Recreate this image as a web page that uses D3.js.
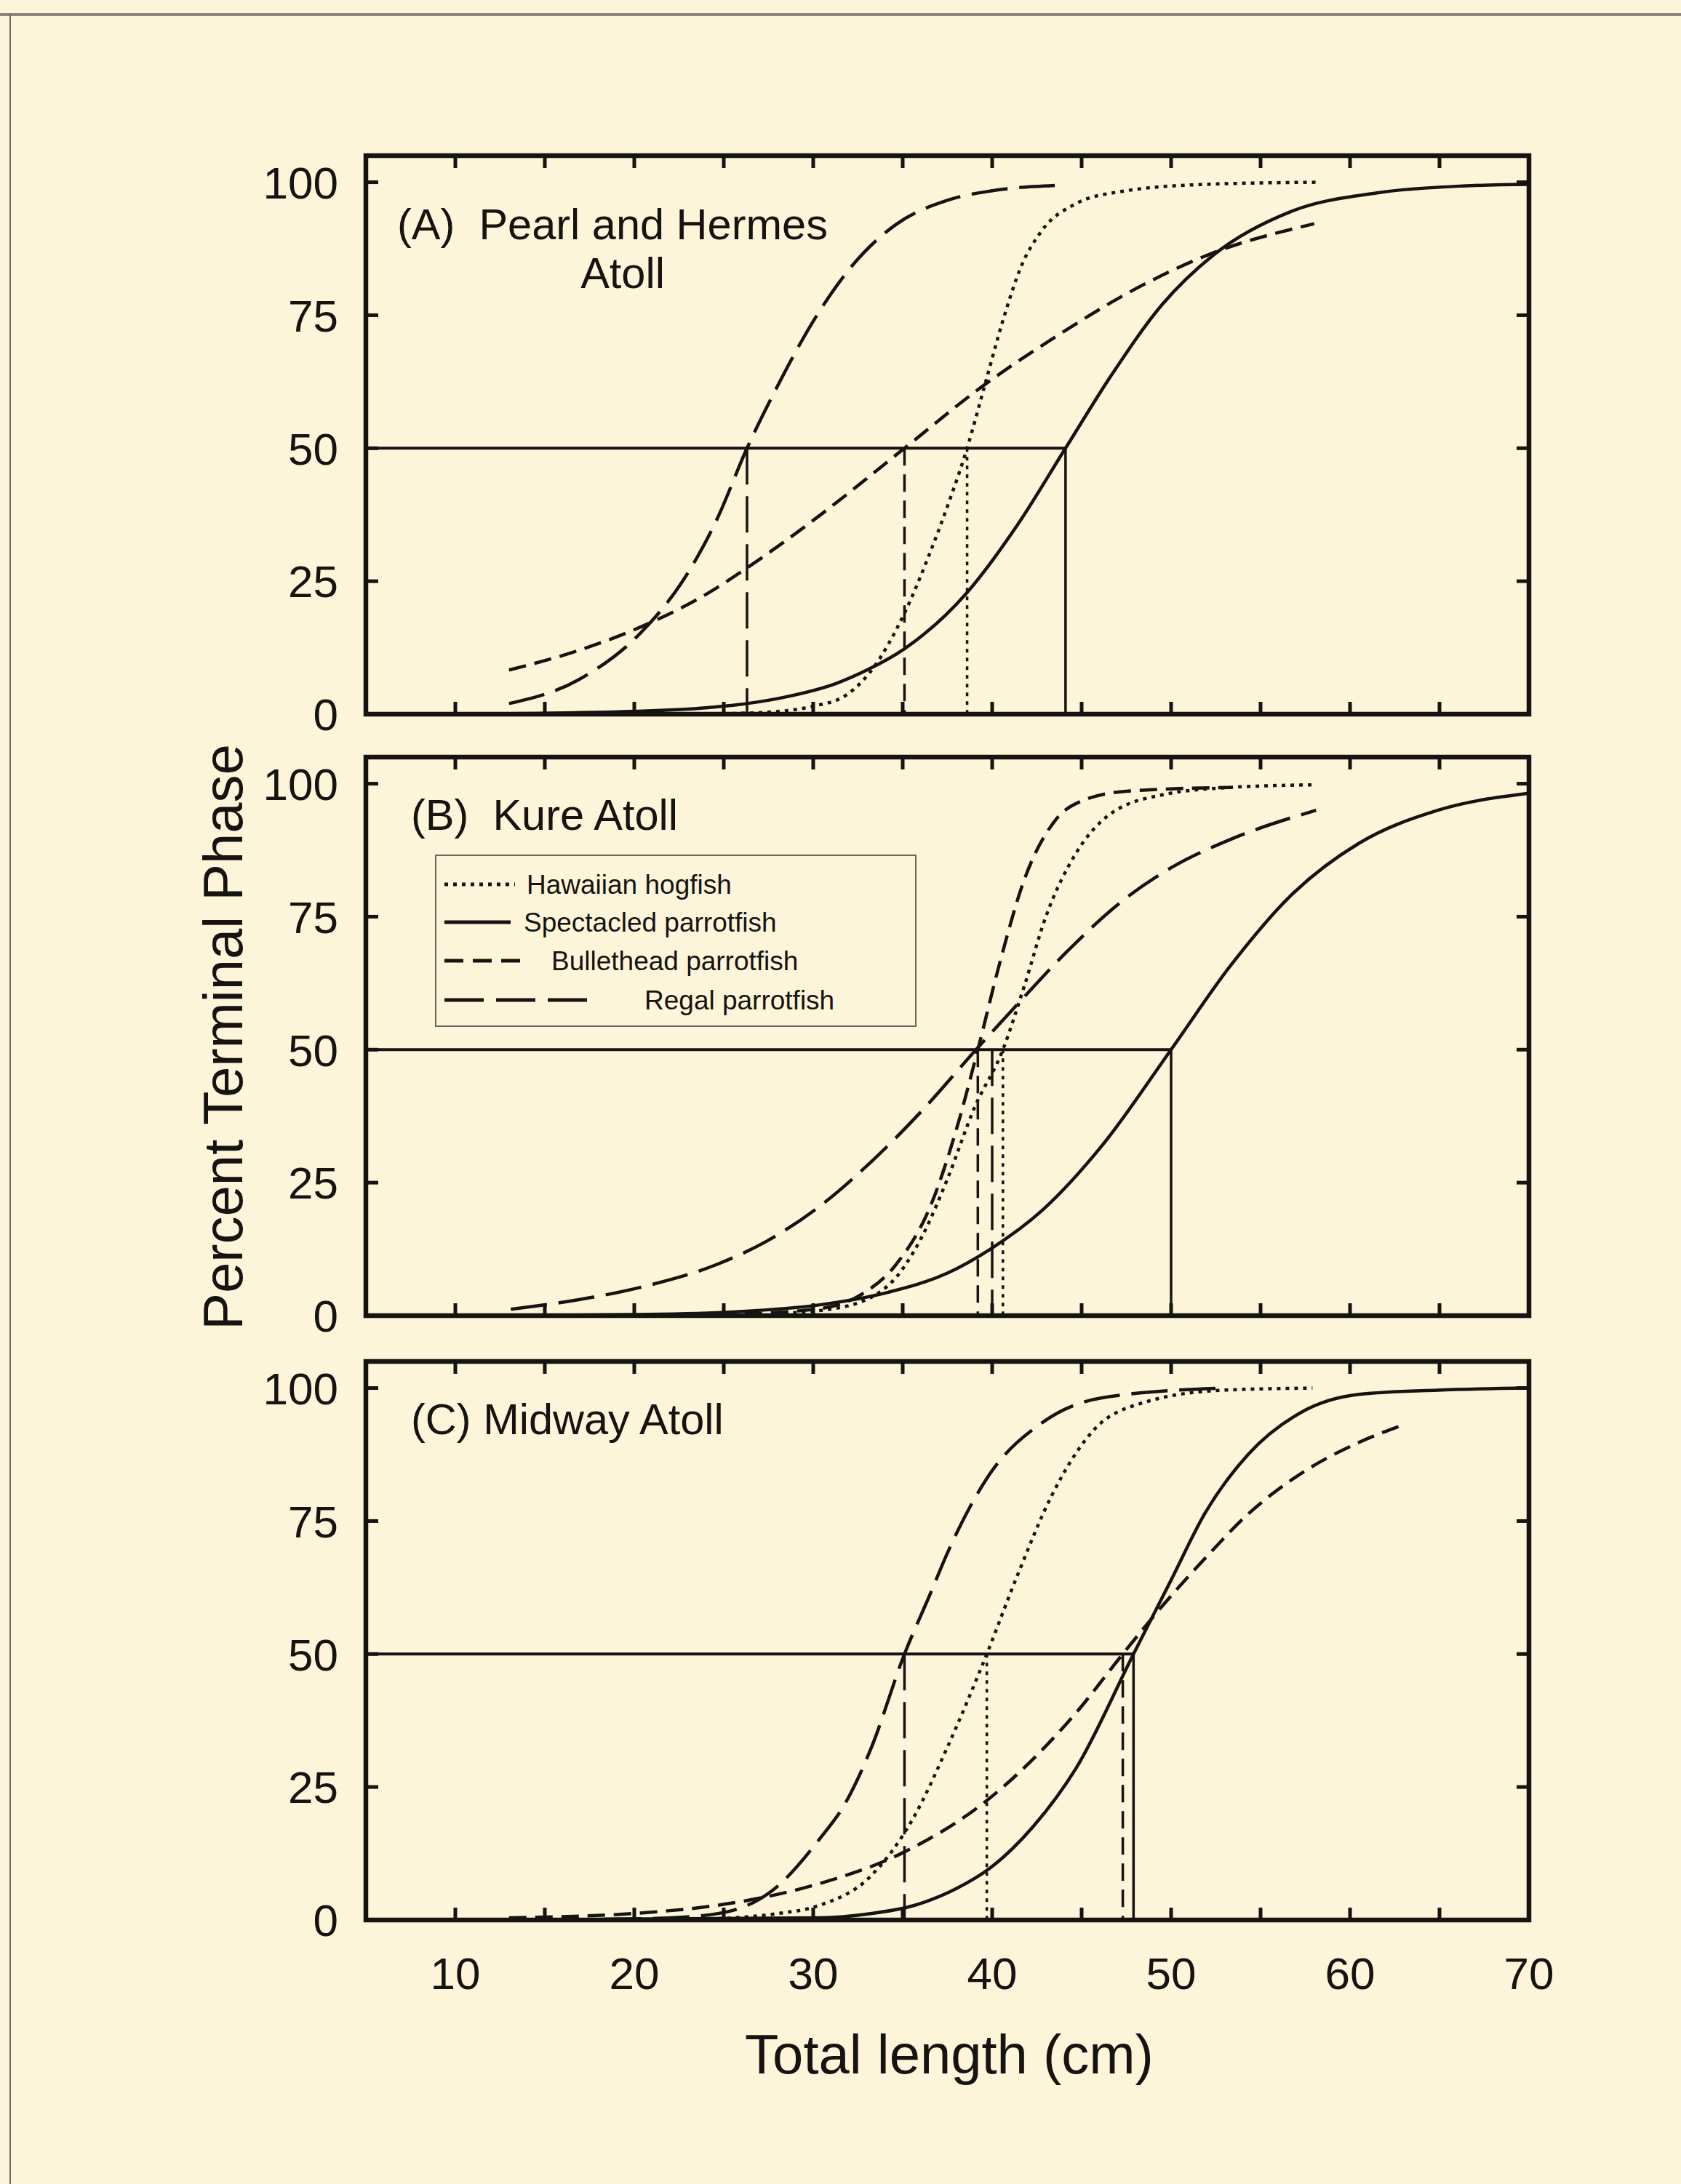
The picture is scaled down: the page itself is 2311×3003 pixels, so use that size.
<!DOCTYPE html>
<html><head><meta charset="utf-8">
<script src="https://cdn.jsdelivr.net/npm/d3@7/dist/d3.min.js"></script>
<style>
html,body{margin:0;padding:0;background:#FCF5DA;}
svg{display:block;font-family:"Liberation Sans",Arial,Helvetica,sans-serif;}
</style>
</head><body>
<svg id="chart" width="2311" height="3003"></svg>
<script>
// ---------- data ----------
const xDomain = [5, 70];
const yDomain = [0, 105];
const xTickLabels = [10, 20, 30, 40, 50, 60, 70];
const xTickMarks = [10, 15, 20, 25, 30, 35, 40, 45, 50, 55, 60, 65];
const yTickLabels = [0, 25, 50, 75, 100];
const species = ["Hawaiian hogfish", "Spectacled parrotfish", "Bullethead parrotfish", "Regal parrotfish"];
const panelTitles = ["(A)  Pearl and Hermes", "(B)  Kure Atoll", "(C) Midway Atoll"];
const panelSubtitles = ["Atoll", "", ""];

// Panel A: Pearl and Hermes Atoll
const hogfishA = [[25,0.1],[28,0.5],[30,1.5],[31.8,3.5],[33.2,8],[35.1,19],[36.6,31],[37.6,40],[38.6,50],[39.6,62],[40.6,74],[41.6,84],[42.8,91],[44.7,96],[47.1,98.2],[51.9,99.6],[58.1,100]];
const spectacledA = [[13,0.1],[20.7,0.6],[24,1.2],[26.3,2.0],[28.4,3.2],[31.3,5.8],[33,8.3],[35.1,12.3],[38.5,22.5],[41.4,35.5],[44.1,50],[46.6,63.4],[49.5,77],[52.4,86.4],[56.7,94.5],[61.5,98],[66.3,99.3],[70,99.6]];
const bullheadA = [[13,8.3],[16.9,12],[20.7,16.9],[24,22.5],[26.3,27.5],[30.3,37.2],[35.1,50],[39.4,61.5],[43.8,71.5],[47.6,79.2],[52.1,86.4],[58,92.2]];
const regalA = [[13,2],[16.9,6.5],[20.7,16.5],[22.6,24.5],[24.6,36.5],[26.3,50],[27.9,61],[30.3,75.5],[32.2,84.4],[34.6,92],[37.5,96.6],[40,98.4],[43.5,99.4]];
const l50A = [38.6, 44.1, 35.1, 26.3];

// Panel B: Kure Atoll
const hogfishB = [[27.9,0.4],[31.3,1.4],[34.2,5.7],[36.1,15],[37.5,25.7],[39,39],[40.6,50],[41.8,62],[43,75],[44.7,87],[46.6,94.3],[49.5,97.9],[53.3,99.3],[58.1,99.8]];
const spectacledB = [[13,0],[20,0.2],[25.5,0.7],[30.3,2.0],[34.2,4.4],[37.5,8],[39.9,12.5],[42.8,19.8],[46.1,31.8],[50,50],[53.3,65.7],[56.7,79],[60.5,88.8],[64.9,95],[70,98.2]];
const bullheadB = [[13,0],[25.5,0.3],[30.3,1.3],[32.7,4],[34.6,9.5],[36.6,21],[38,35],[39.2,50],[40.4,66],[41.8,82],[43.5,93],[45.2,97],[47.6,98.6],[53.3,99.3]];
const regalB = [[13.1,1.2],[16.9,3],[20.7,5.6],[24.6,9.6],[27.4,14],[30.3,20.4],[33.2,28.8],[36.1,38.6],[39.1,50],[41.4,58.5],[44.2,68.5],[47.1,77.5],[50,84.2],[53.3,89.5],[58.1,95]];
const l50B = [40.6, 50.0, 39.2, 40.0];

// Panel C: Midway Atoll
const hogfishC = [[13,0],[22,0.05],[25.5,0.4],[28,1.2],[30.3,2.7],[33.2,8.2],[35.6,19.2],[37.5,32.5],[39.7,50],[41.4,64.7],[43.3,79.6],[45.7,92.2],[48.5,97.3],[52.9,99.6],[57.9,100]];
const spectacledC = [[13,0],[30.3,0.4],[33.2,1.2],[35.6,2.7],[38,5.9],[39.9,9.8],[42.3,17.6],[44.7,28.6],[47.9,50],[50,63.9],[51.9,76.5],[54.3,87.5],[57.2,95.3],[60.5,98.8],[64.9,99.6],[70,100]];
const bullheadC = [[13,0.4],[20.7,1.4],[25.5,3.2],[30.3,6.8],[35.1,12.8],[39.9,23],[42.8,32],[44.7,39],[47.3,50],[49.5,59],[51.9,68],[54.3,76.3],[57.2,83.8],[60.5,89.8],[62.9,93]];
const regalC = [[13,0],[20,0.2],[22.6,0.5],[25.5,1.8],[27.7,5.5],[30.3,15],[31.8,22],[33.2,32],[35.1,50],[36.5,61],[37.5,69],[39.9,84],[42.8,93.5],[46.2,98.2],[52.9,100]];
const l50C = [39.7, 47.9, 47.3, 35.1];

const panelSeries = [
  [hogfishA, spectacledA, bullheadA, regalA],
  [hogfishB, spectacledB, bullheadB, regalB],
  [hogfishC, spectacledC, bullheadC, regalC]
];
const panelL50 = [l50A, l50B, l50C];

// ---------- styles / layout ----------
const ink = "#161310";
const dashes = ["5 7", null, "24 12", "50 16"];
const W = 2311, H = 3003;
const plotLeft = 503, plotRight = 2102;
const panelTops = [214, 1041, 1872];
const panelH = 768;

const svg = d3.select("#chart");
svg.append("rect").attr("width", W).attr("height", H).attr("fill", "#FCF5DA");
// page edges
svg.append("line").attr("x1", 0).attr("x2", W).attr("y1", 20).attr("y2", 20)
  .attr("stroke", "#8a877c").attr("stroke-width", 4);
svg.append("line").attr("x1", 14).attr("x2", 14).attr("y1", 20).attr("y2", H)
  .attr("stroke", "#6e6b62").attr("stroke-width", 2);

const x = d3.scaleLinear().domain(xDomain).range([plotLeft, plotRight]);

panelSeries.forEach((series, p) => {
  const top = panelTops[p];
  const y = d3.scaleLinear().domain(yDomain).range([top + panelH, top]);
  const g = svg.append("g");
  const line = d3.line().x(d => x(d[0])).y(d => y(d[1])).curve(d3.curveMonotoneX);

  // curves
  series.forEach((pts, i) => {
    g.append("path").datum(pts).attr("d", line)
      .attr("fill", "none").attr("stroke", ink).attr("stroke-width", 4.5)
      .attr("stroke-dasharray", dashes[i]);
  });

  // 50% reference lines
  const l50 = panelL50[p];
  g.append("line").attr("x1", x(xDomain[0])).attr("x2", x(d3.max(l50)))
    .attr("y1", y(50)).attr("y2", y(50)).attr("stroke", ink).attr("stroke-width", 4);
  l50.forEach((v, i) => {
    g.append("line").attr("x1", x(v)).attr("x2", x(v)).attr("y1", y(50)).attr("y2", y(0))
      .attr("stroke", ink).attr("stroke-width", 3.5).attr("stroke-dasharray", dashes[i]);
  });

  // ticks
  xTickMarks.forEach(t => {
    g.append("line").attr("x1", x(t)).attr("x2", x(t)).attr("y1", top).attr("y2", top + 17)
      .attr("stroke", ink).attr("stroke-width", 5);
    g.append("line").attr("x1", x(t)).attr("x2", x(t)).attr("y1", top + panelH).attr("y2", top + panelH - 17)
      .attr("stroke", ink).attr("stroke-width", 5);
  });
  yTickLabels.forEach(t => {
    g.append("line").attr("x1", plotLeft).attr("x2", plotLeft + 17).attr("y1", y(t)).attr("y2", y(t))
      .attr("stroke", ink).attr("stroke-width", 5);
    g.append("line").attr("x1", plotRight).attr("x2", plotRight - 17).attr("y1", y(t)).attr("y2", y(t))
      .attr("stroke", ink).attr("stroke-width", 5);
    g.append("text").attr("x", plotLeft - 38).attr("y", y(t)).attr("dy", "0.36em")
      .attr("text-anchor", "end").attr("font-size", 62).attr("fill", ink).text(t);
  });

  // frame
  g.append("rect").attr("x", plotLeft).attr("y", top).attr("width", plotRight - plotLeft).attr("height", panelH)
    .attr("fill", "none").attr("stroke", ink).attr("stroke-width", 6.5);

  // panel titles
  g.append("text").attr("x", p === 0 ? 546 : 565).attr("y", top + (p === 0 ? 115 : 100))
    .attr("font-size", 59.5).attr("fill", ink).style("white-space", "pre").text(panelTitles[p]);
  if (panelSubtitles[p]) {
    g.append("text").attr("x", 856).attr("y", top + 182).attr("text-anchor", "middle")
      .attr("font-size", 59.5).attr("fill", ink).text(panelSubtitles[p]);
  }

  // x tick labels on last panel
  if (p === panelSeries.length - 1) {
    xTickLabels.forEach(t => {
      svg.append("text").attr("x", x(t)).attr("y", top + panelH + 95).attr("text-anchor", "middle")
        .attr("font-size", 62).attr("fill", ink).text(t);
    });
  }
});

// legend (inside panel B)
const legX = 599, legY = 1176, legW = 660, legH = 235;
const leg = svg.append("g");
leg.append("rect").attr("x", legX).attr("y", legY).attr("width", legW).attr("height", legH)
  .attr("fill", "none").attr("stroke", "#6b675e").attr("stroke-width", 2);
const legRowY = [1216, 1268, 1321, 1375];
const legLineEnd = [708, 702, 718, 815];
const legTextX = [724, 720, 758, 886];
const legDash = ["5 7", null, "26 13", "54 17"];
species.forEach((s, i) => {
  leg.append("line").attr("x1", 611).attr("x2", legLineEnd[i]).attr("y1", legRowY[i]).attr("y2", legRowY[i])
    .attr("stroke", ink).attr("stroke-width", 5).attr("stroke-dasharray", legDash[i]);
  leg.append("text").attr("x", legTextX[i]).attr("y", legRowY[i]).attr("dy", "0.35em")
    .attr("font-size", 37).attr("fill", ink).text(s);
});

// axis titles
svg.append("text").attr("x", 1305).attr("y", 2851).attr("text-anchor", "middle")
  .attr("font-size", 76).attr("fill", ink).text("Total length (cm)");
svg.append("text").attr("transform", "translate(333,1426) rotate(-90)").attr("text-anchor", "middle")
  .attr("font-size", 76).attr("fill", ink).text("Percent Terminal Phase");
</script>
</body></html>
